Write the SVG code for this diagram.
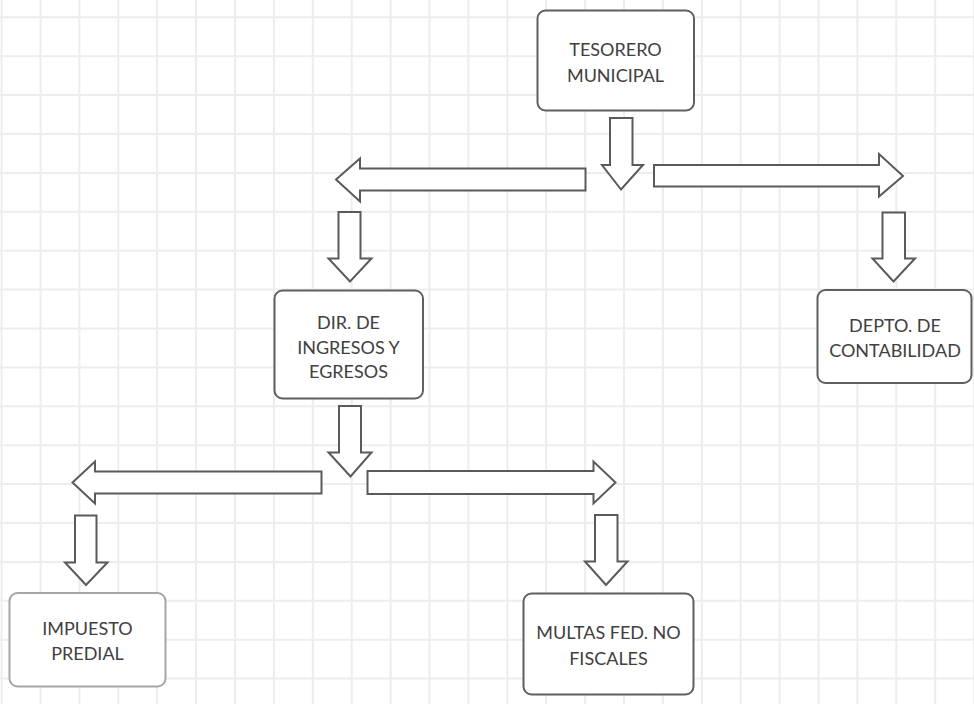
<svg xmlns="http://www.w3.org/2000/svg" width="974" height="704" viewBox="0 0 974 704">
<style>
.grid{fill:none;stroke:#ededed;stroke-width:2}
.box{fill:#ffffff;stroke:#5f5f5f;stroke-width:2}
.box.light{stroke:#a6a6a6}
.arrow{fill:#ffffff;stroke:#5a5a5a;stroke-width:2;stroke-linejoin:miter}
.lbl{font-family:Lato,"Open Sans","Liberation Sans",sans-serif;font-size:18px;fill:#404040;text-anchor:middle}
</style>
<rect x="0" y="0" width="974" height="704" fill="#ffffff"/>
<path class="grid" d="M1.6 0V704M40.5 0V704M79.4 0V704M118.3 0V704M157.2 0V704M196.1 0V704M235 0V704M273.9 0V704M312.8 0V704M351.7 0V704M390.6 0V704M429.5 0V704M468.4 0V704M507.3 0V704M546.2 0V704M585.1 0V704M624 0V704M662.9 0V704M701.8 0V704M740.7 0V704M779.6 0V704M818.5 0V704M857.4 0V704M896.3 0V704M935.2 0V704M974.1 0V704M0 17.3H974M0 56.2H974M0 95.1H974M0 134H974M0 172.9H974M0 211.8H974M0 250.7H974M0 289.6H974M0 328.5H974M0 367.4H974M0 406.3H974M0 445.2H974M0 484.1H974M0 523H974M0 561.9H974M0 600.8H974M0 639.7H974M0 678.6H974"/>
<g id="connectors">
<polygon class="arrow" points="610,118 632.5,118 632.5,165 643,165 621,189.5 602,165 610,165"/>
<polygon class="arrow" points="585.5,168.5 585.5,190.5 360,190.5 360,201.5 336,179.5 360,158.5 360,168.5"/>
<polygon class="arrow" points="338.5,212 360.5,212 360.5,258.5 371.5,258.5 350,281.5 328.5,258.5 338.5,258.5"/>
<polygon class="arrow" points="654,165 879,165 879,154 903,176 879,196.5 879,186.5 654,186.5"/>
<polygon class="arrow" points="882.5,212.5 905,212.5 905,258.5 915,258.5 893.5,281.5 872.5,258.5 882.5,258.5"/>
<polygon class="arrow" points="339,406 361,406 361,452.5 371.5,452.5 350.5,476.5 328.5,452.5 339,452.5"/>
<polygon class="arrow" points="321.5,471.5 321.5,493.5 95,493.5 95,503.5 72.5,482.5 95,461.5 95,471.5"/>
<polygon class="arrow" points="75,515.5 96.5,515.5 96.5,562.5 107.5,562.5 86,585 65,562.5 75,562.5"/>
<polygon class="arrow" points="367.5,471 593.5,471 593.5,461.5 615.5,482.5 593.5,503.5 593.5,494 367.5,494"/>
<polygon class="arrow" points="595,515 617.5,515 617.5,561.5 627.5,561.5 606,585 585,561.5 595,561.5"/>
</g>
<g id="tesorero">
<rect class="box" x="537.5" y="10.5" width="156.5" height="100" rx="8"/>
<text class="lbl" x="615.5" y="55.5">TESORERO</text>
<text class="lbl" x="615.5" y="82">MUNICIPAL</text>
</g>
<g id="dir-ingresos">
<rect class="box" x="274.5" y="290.5" width="148.5" height="108" rx="8"/>
<text class="lbl" x="348.5" y="329">DIR. DE</text>
<text class="lbl" x="348.5" y="353.5">INGRESOS Y</text>
<text class="lbl" x="348.5" y="378">EGRESOS</text>
</g>
<g id="depto-contabilidad">
<rect class="box" x="817.5" y="290" width="154" height="93" rx="8"/>
<text class="lbl" x="895" y="332">DEPTO. DE</text>
<text class="lbl" x="895" y="357">CONTABILIDAD</text>
</g>
<g id="impuesto-predial">
<rect class="box light" x="9.5" y="593" width="156" height="93.5" rx="8"/>
<text class="lbl" x="87.5" y="634.5">IMPUESTO</text>
<text class="lbl" x="87.5" y="659.5">PREDIAL</text>
</g>
<g id="multas">
<rect class="box" x="523.5" y="593.5" width="170" height="101" rx="8"/>
<text class="lbl" x="608.5" y="639">MULTAS FED. NO</text>
<text class="lbl" x="608.5" y="664.5">FISCALES</text>
</g>
</svg>
